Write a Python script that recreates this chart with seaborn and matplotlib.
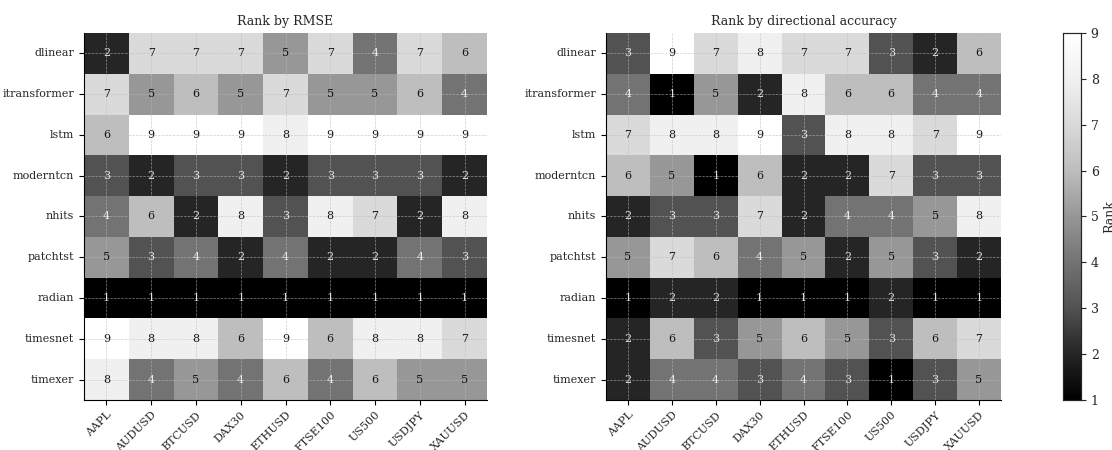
import numpy as np
import pandas as pd
import matplotlib
matplotlib.use("Agg")
import matplotlib.pyplot as plt
import seaborn as sns

models = ["dlinear", "itransformer", "lstm", "moderntcn", "nhits",
          "patchtst", "radian", "timesnet", "timexer"]
assets = ["AAPL", "AUDUSD", "BTCUSD", "DAX30", "ETHUSD",
          "FTSE100", "US500", "USDJPY", "XAUUSD"]

rank_rmse = [
    [2, 7, 7, 7, 5, 7, 4, 7, 6],
    [7, 5, 6, 5, 7, 5, 5, 6, 4],
    [6, 9, 9, 9, 8, 9, 9, 9, 9],
    [3, 2, 3, 3, 2, 3, 3, 3, 2],
    [4, 6, 2, 8, 3, 8, 7, 2, 8],
    [5, 3, 4, 2, 4, 2, 2, 4, 3],
    [1, 1, 1, 1, 1, 1, 1, 1, 1],
    [9, 8, 8, 6, 9, 6, 8, 8, 7],
    [8, 4, 5, 4, 6, 4, 6, 5, 5],
]

rank_diracc = [
    [3, 9, 7, 8, 7, 7, 3, 2, 6],
    [4, 1, 5, 2, 8, 6, 6, 4, 4],
    [7, 8, 8, 9, 3, 8, 8, 7, 9],
    [6, 5, 1, 6, 2, 2, 7, 3, 3],
    [2, 3, 3, 7, 2, 4, 4, 5, 8],
    [5, 7, 6, 4, 5, 2, 5, 3, 2],
    [1, 2, 2, 1, 1, 1, 2, 1, 1],
    [2, 6, 3, 5, 6, 5, 3, 6, 7],
    [2, 4, 4, 3, 4, 3, 1, 3, 5],
]

titles = ["Rank by RMSE", "Rank by directional accuracy"]

sns.set_style("white")
plt.rcParams["font.family"] = ["DejaVu Serif"]
plt.rcParams["font.size"] = 8

fig = plt.figure(figsize=(11.12, 4.5), dpi=100)
W, H = 1112, 450
ax1 = fig.add_axes([84 / W, 1 - 400 / H, 403 / W, 367 / H])
ax2 = fig.add_axes([606 / W, 1 - 400 / H, 395 / W, 367 / H])
cax = fig.add_axes([1063 / W, 1 - 400 / H, 18 / W, 367 / H])

for i, (ax, data, title) in enumerate(zip([ax1, ax2], [rank_rmse, rank_diracc], titles)):
    df = pd.DataFrame(data, index=models, columns=assets)
    sns.heatmap(df, ax=ax, cmap="Greys_r", vmin=1, vmax=9,
                annot=True, fmt="d", annot_kws={"fontsize": 8},
                cbar=(i == 1), cbar_ax=cax if i == 1 else None,
                cbar_kws={"ticks": list(range(1, 10))})
    for txt in ax.texts:
        v = int(txt.get_text())
        txt.set_color("white" if v <= 4 else "black")
        txt.set_alpha(0.85 if v <= 4 else 0.9)
    ax.set_title(title, fontsize=9, pad=6)
    ax.set_xlabel("")
    ax.set_ylabel("")
    ax.set_xticklabels(assets, rotation=45, ha="right", rotation_mode="anchor")
    ax.set_yticklabels(models, rotation=0)
    ax.tick_params(axis="both", length=3.5, width=0.8, color="black",
                   left=True, bottom=True, labelsize=8)
    ax.set_axisbelow(False)
    ax.grid(True, linestyle="--", linewidth=0.5, color="#bbbbbb", alpha=0.7)
    for side in ["left", "bottom"]:
        ax.spines[side].set_visible(True)
        ax.spines[side].set_color("black")
        ax.spines[side].set_linewidth(0.8)
    for side in ["top", "right"]:
        ax.spines[side].set_visible(False)

cax.tick_params(labelsize=9, length=3.5, width=0.8)
cax.set_ylabel("Rank", fontsize=9, labelpad=3)
for s in cax.spines.values():
    s.set_visible(True)
    s.set_linewidth(0.8)

fig.savefig("out.png", dpi=100)
